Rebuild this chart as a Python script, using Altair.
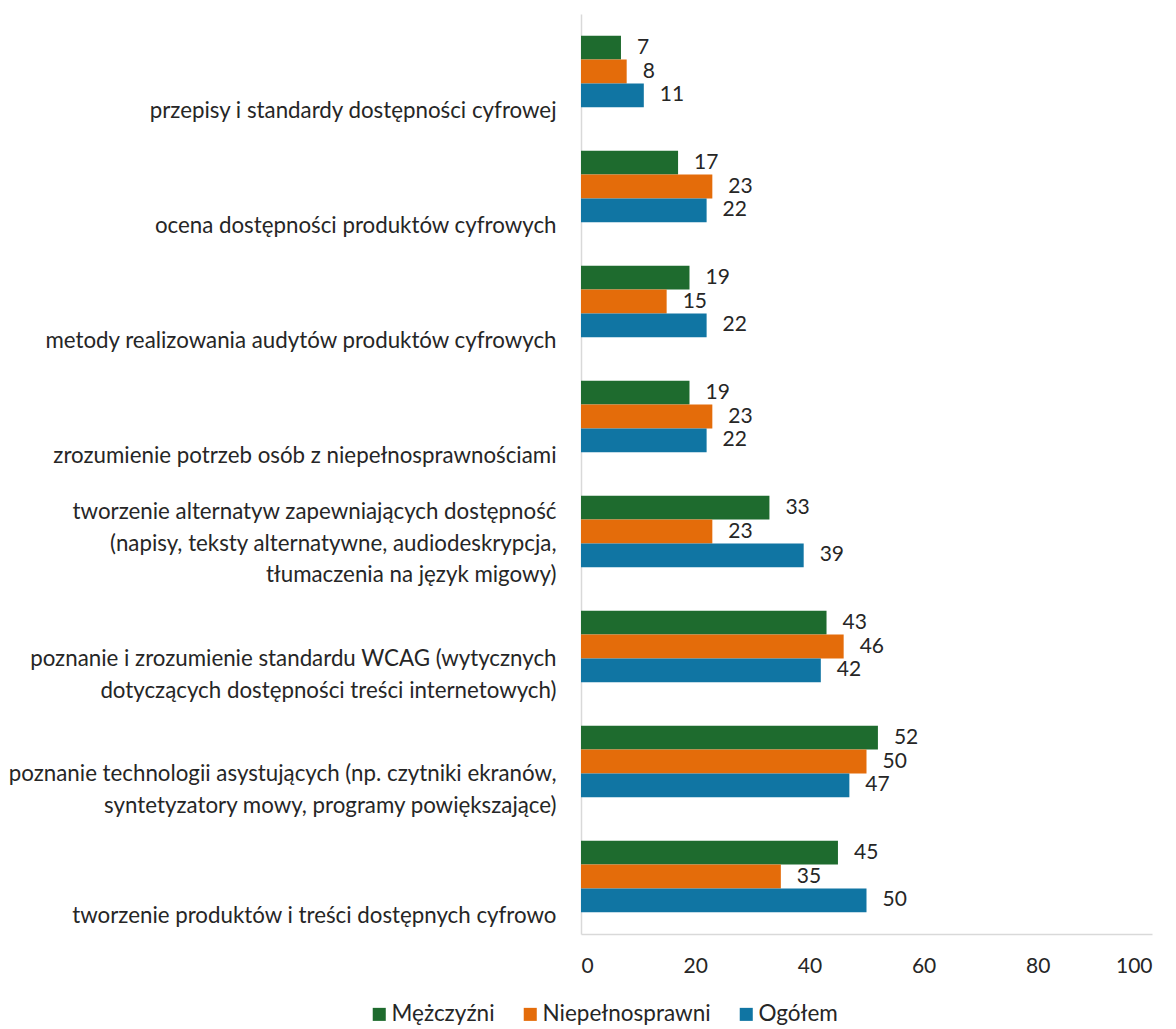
import altair as alt
import pandas as pd

categories = [
    "przepisy i standardy dostępności cyfrowej",
    "ocena dostępności produktów cyfrowych",
    "metody realizowania audytów produktów cyfrowych",
    "zrozumienie potrzeb osób z niepełnosprawnościami",
    "tworzenie alternatyw zapewniających dostępność|(napisy, teksty alternatywne, audiodeskrypcja,|tłumaczenia na język migowy)",
    "poznanie i zrozumienie standardu WCAG (wytycznych|dotyczących dostępności treści internetowych)",
    "poznanie technologii asystujących (np. czytniki ekranów,|syntetyzatory mowy, programy powiększające)",
    "tworzenie produktów i treści dostępnych cyfrowo",
]
series = ["Mężczyźni", "Niepełnosprawni", "Ogółem"]
men = [7, 17, 19, 19, 33, 43, 52, 45]
disabled = [8, 23, 15, 23, 23, 46, 50, 35]
total = [11, 22, 22, 22, 39, 42, 47, 50]
colors = ["#1E6B2E", "#E46C0A", "#1075A3"]
x_ticks = [0, 20, 40, 60, 80, 100]

rows = []
for i, c in enumerate(categories):
    for s, vals in zip(series, [men, disabled, total]):
        rows.append({"cat": c, "series": s, "value": vals[i]})
df = pd.DataFrame(rows)

FONT = "Lato"
TXT = "#262626"

# shift each label down according to its line count, so its last line sits
# near the bottom of its band
offset_expr = (
    "length(split(datum.label, '|')) == 1 ? 39.5 : "
    "(length(split(datum.label, '|')) == 2 ? 12.5 : -19.5)"
)

y_enc = alt.Y(
    "cat:N",
    sort=categories,
    scale=alt.Scale(paddingInner=0.38, paddingOuter=0.19),
    axis=alt.Axis(
        title=None,
        labelExpr="split(datum.label, '|')",
        labelAlign="right",
        labelBaseline="middle",
        labelOffset=alt.ExprRef(expr=offset_expr),
        labelLineHeight=31.5,
        labelPadding=25,
        labelFontSize=22.3,
        labelFont=FONT,
        labelColor=TXT,
        ticks=False,
        domainColor="#D9D9D9",
        domainWidth=1.5,
        labelLimit=0,
    ),
)
x_enc = alt.X(
    "value:Q",
    scale=alt.Scale(domain=[0, 100]),
    axis=alt.Axis(
        values=x_ticks,
        title=None,
        grid=False,
        ticks=False,
        domainColor="#D9D9D9",
        domainWidth=1.5,
        labelFontSize=21,
        labelFont=FONT,
        labelColor=TXT,
        labelPadding=21,
    ),
)
yoff = alt.YOffset("series:N", sort=series, scale=alt.Scale(paddingInner=0, paddingOuter=0))

bars = alt.Chart(df).mark_bar().encode(
    x=x_enc,
    y=y_enc,
    yOffset=yoff,
    color=alt.Color(
        "series:N",
        sort=series,
        scale=alt.Scale(domain=series, range=colors),
        legend=alt.Legend(
            title=None,
            orient="none",
            direction="horizontal",
            legendX=-213,
            legendY=989,
            symbolType="square",
            symbolSize=170,
            symbolStrokeWidth=0,
            symbolOpacity=1,
            labelFontSize=22.5,
            labelFont=FONT,
            labelColor=TXT,
            labelOffset=1,
            labelLimit=400,
            columnPadding=24,
        ),
    ),
)

labels = alt.Chart(df).mark_text(
    align="left", baseline="middle", dx=16, fontSize=21, font=FONT, color=TXT
).encode(
    x=alt.X("value:Q"),
    y=alt.Y("cat:N", sort=categories),
    yOffset=alt.YOffset("series:N", sort=series),
    text=alt.Text("value:Q"),
)

chart = (
    alt.layer(bars, labels)
    .properties(width=571, height=920, padding={"left": 0, "top": 6, "right": 5, "bottom": 5})
    .configure_view(stroke=None)
)

chart.save("out.html", embed_options={"renderer": "svg", "actions": False})
